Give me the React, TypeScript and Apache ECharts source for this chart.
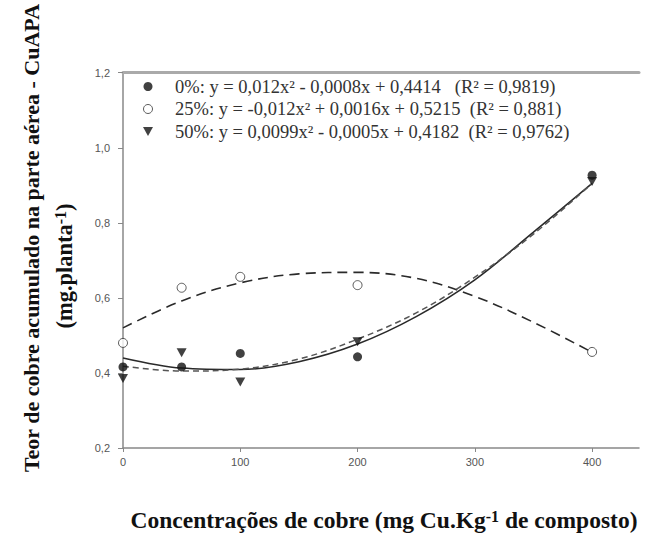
import React, { useEffect, useRef } from "react";
import * as echarts from "echarts";

// Observed points
const xLevels = [0, 50, 100, 200, 400];
const obs0 = [0.416, 0.416, 0.452, 0.443, 0.927];
const obs25 = [0.48, 0.627, 0.656, 0.634, 0.456];
const obs50 = [0.385, 0.454, 0.376, 0.483, 0.91];

// Fitted curves
const curveX = [0, 50, 100, 150, 200, 250, 300, 350, 400];
const fit0 = [0.44, 0.413, 0.409, 0.43, 0.477, 0.55, 0.648, 0.775, 0.905];
const fit25 = [0.52, 0.592, 0.64, 0.664, 0.668, 0.652, 0.604, 0.535, 0.455];
const fit50 = [0.418, 0.405, 0.41, 0.437, 0.49, 0.56, 0.655, 0.77, 0.905];

const names = [
  "0%: y = 0,012x² - 0,0008x + 0,4414   (R² = 0,9819)",
  "25%: y = -0,012x² + 0,0016x + 0,5215  (R² = 0,881)",
  "50%: y = 0,0099x² - 0,0005x + 0,4182  (R² = 0,9762)",
];

const xTicks = [0, 100, 200, 300, 400];
const yTitle1 = "Teor de cobre acumulado na parte aérea - CuAPA";
const yTitle2 = "(mg.planta{sup|-1})";
const xTitle = "Concentrações de cobre (mg Cu.Kg{sup|-1} de composto)";

const pair = (xs: number[], ys: number[]) => xs.map((x, i) => [x, ys[i]]);

export default function App() {
  const ref = useRef<HTMLDivElement>(null);
  useEffect(() => {
    if (!ref.current) return;
    const chart = echarts.init(ref.current, undefined, { renderer: "svg" });
    const lineCol = "#2a2a2a";
    chart.setOption({
      animation: false,
      backgroundColor: "#fff",
      grid: { left: 123, right: 7, top: 72.7, bottom: 87 },
      legend: {
        data: [
          { name: names[0], icon: "circle", itemStyle: { color: "#111" } },
          {
            name: names[1],
            icon: "circle",
            itemStyle: { color: "#fff", borderColor: "#333", borderWidth: 1 },
          },
          { name: names[2], icon: "path://M0,0L10,0L5,9Z", itemStyle: { color: "#111" } },
        ],
        orient: "vertical",
        left: 138,
        top: 72,
        itemWidth: 10,
        itemHeight: 9,
        itemGap: 3.5,
        selectedMode: false,
        textStyle: {
          fontFamily: "Liberation Serif",
          fontSize: 18.5,
          color: "#333",
          lineHeight: 17,
          padding: [0, 0, 0, 17],
        },
      },
      xAxis: [
        {
          type: "value",
          min: 0,
          max: 440,
          interval: 100,
          position: "bottom",
          axisLine: { onZero: false, lineStyle: { color: "#888", width: 1.5 } },
          axisTick: { customValues: xTicks, length: 4, lineStyle: { color: "#888" } },
          axisLabel: {
            customValues: xTicks,
            color: "#555",
            fontSize: 11,
            fontFamily: "Liberation Sans",
            margin: 8,
          },
          splitLine: { show: false },
        },
        {
          type: "value",
          min: 0,
          max: 440,
          position: "top",
          axisLine: { show: true, onZero: false, lineStyle: { color: "#aaa", width: 3 } },
          axisTick: { show: false },
          axisLabel: { show: false },
          splitLine: { show: false },
        },
      ],
      yAxis: {
        type: "value",
        min: 0.2,
        max: 1.2,
        interval: 0.2,
        axisLine: { show: true, lineStyle: { color: "#888", width: 1.5 } },
        axisTick: { show: true, length: 5, lineStyle: { color: "#888" } },
        axisLabel: {
          color: "#555",
          fontSize: 11,
          fontFamily: "Liberation Sans",
          margin: 13,
          formatter: (v: number) => v.toFixed(1).replace(".", ","),
        },
        splitLine: { show: false },
      },
      series: [
        {
          name: "fit0",
          type: "line",
          data: pair(curveX, fit0),
          showSymbol: false,
          smooth: 0.35,
          lineStyle: { color: lineCol, width: 1.6 },
          z: 2,
        },
        {
          name: "fit25",
          type: "line",
          data: pair(curveX, fit25),
          showSymbol: false,
          smooth: 0.35,
          lineStyle: { color: lineCol, width: 1.6, type: [10, 6] },
          z: 2,
        },
        {
          name: "fit50",
          type: "line",
          data: pair(curveX, fit50),
          showSymbol: false,
          smooth: 0.35,
          lineStyle: { color: "#555", width: 1.5, type: [6, 4] },
          z: 2,
        },
        {
          name: names[0],
          type: "scatter",
          data: pair(xLevels, obs0),
          symbol: "circle",
          symbolSize: 9,
          itemStyle: { color: "#111" },
          z: 4,
        },
        {
          name: names[1],
          type: "scatter",
          data: pair(xLevels, obs25),
          symbol: "circle",
          symbolSize: 9,
          itemStyle: { color: "#fff", borderColor: "#333", borderWidth: 1 },
          z: 4,
        },
        {
          name: names[2],
          type: "scatter",
          data: pair(xLevels, obs50),
          symbol: "triangle",
          symbolRotate: 180,
          symbolSize: [10, 9],
          itemStyle: { color: "#111" },
          z: 3,
        },
      ],
      graphic: [
        {
          type: "text",
          x: 31,
          y: 238,
          rotation: Math.PI / 2,
          style: {
            text: yTitle1,
            font: 'bold 22px "Liberation Serif"',
            fill: "#111",
            align: "center",
            verticalAlign: "middle",
          },
        },
        {
          type: "text",
          x: 64,
          y: 266,
          rotation: Math.PI / 2,
          style: {
            text: yTitle2,
            font: 'bold 22.5px "Liberation Serif"',
            fill: "#111",
            align: "center",
            verticalAlign: "middle",
            rich: {
              sup: {
                font: 'bold 16px "Liberation Serif"',
                fill: "#111",
                verticalAlign: "top",
                lineHeight: 14,
              },
            },
          },
        },
        {
          type: "text",
          x: 384,
          y: 520,
          style: {
            text: xTitle,
            font: 'bold 23.5px "Liberation Serif"',
            fill: "#111",
            align: "center",
            verticalAlign: "middle",
            rich: {
              sup: {
                font: 'bold 16px "Liberation Serif"',
                fill: "#111",
                verticalAlign: "top",
                lineHeight: 14,
              },
            },
          },
        },
      ],
    });
    return () => chart.dispose();
  }, []);
  return (
    <div
      ref={ref}
      style={{ position: "fixed", left: 0, top: 0, width: 646, height: 535 }}
    />
  );
}
